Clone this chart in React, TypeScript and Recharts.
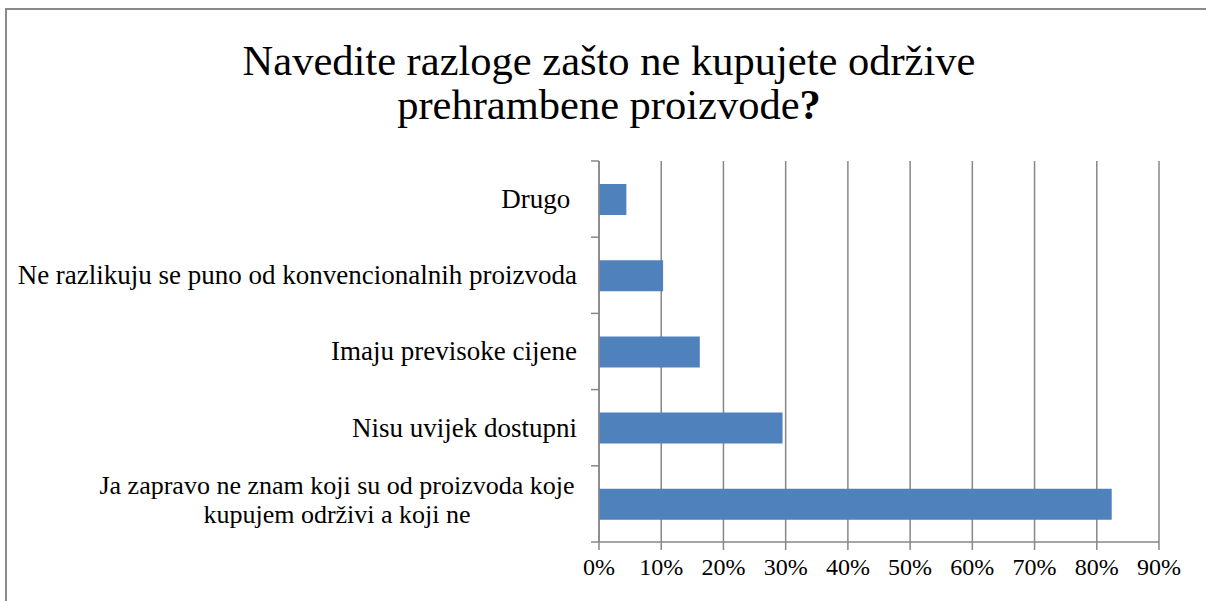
import { BarChart, Bar, XAxis, YAxis, CartesianGrid } from 'recharts'

const categories = [
  'Drugo ',
  'Ne razlikuju se puno od konvencionalnih proizvoda',
  'Imaju previsoke cijene',
  'Nisu uvijek dostupni',
  'Ja zapravo ne znam koji su od proizvoda koje\nkupujem održivi a koji ne',
]
const shares = [0.044, 0.103, 0.162, 0.295, 0.824]
const xTicks = [0, 0.1, 0.2, 0.3, 0.4, 0.5, 0.6, 0.7, 0.8, 0.9]

const data = categories.map((name, i) => ({ name, value: shares[i] }))

const W = 1206
const H = 601
const TOP = 161
const BOTTOM_AXIS = 59
const LEFT_AXIS = 599
const RIGHT = 47
const GRAY = '#878787'
const FONT = '"Liberation Serif", "Times New Roman", serif'
const BAND = (H - TOP - BOTTOM_AXIS) / categories.length
const LABEL_GAP = 22

function CategoryTick(props: any) {
  const { x, y, payload, index } = props
  const axisX = x + LABEL_GAP
  const lines = String(payload.value).split('\n')
  return (
    <g>
      <line x1={axisX - 8} y1={y - BAND / 2} x2={axisX} y2={y - BAND / 2} stroke={GRAY} strokeWidth={1.5} />
      {index === categories.length - 1 && (
        <line x1={axisX - 8} y1={y + BAND / 2} x2={axisX} y2={y + BAND / 2} stroke={GRAY} strokeWidth={1.5} />
      )}
      {lines.length === 1 ? (
        <text x={x} y={y} dy="0.33em" textAnchor="end" fill="#000" style={{ whiteSpace: 'pre', fontFamily: FONT, fontSize: 27 }}>
          {lines[0]}
        </text>
      ) : (
        // two-line label: lines centred on each other, block right-aligned
        <text x={x - 240} y={y - 10} textAnchor="middle" fill="#000" style={{ fontFamily: FONT, fontSize: 26 }}>
          {lines.map((l, i) => (
            <tspan key={i} x={x - 240} dy={i === 0 ? 0 : 29}>
              {l}
            </tspan>
          ))}
        </text>
      )}
    </g>
  )
}

function PercentTick(props: any) {
  const { x, y, payload } = props
  return (
    <text x={x} y={y} dy="0.71em" textAnchor="middle" fill="#000" style={{ fontFamily: FONT, fontSize: 24 }}>
      {`${Math.round(payload.value * 100)}%`}
    </text>
  )
}

export default function App() {
  return (
    <div style={{ position: 'absolute', left: 0, top: 0, width: W, height: H, overflow: 'hidden', background: '#fff', fontFamily: FONT }}>
      <div style={{ position: 'absolute', left: 5, top: 8, width: W + 20, height: H + 20, border: '2px solid #8a8a8a' }} />
      <div
        style={{
          position: 'absolute',
          left: 0,
          top: 39,
          width: 1218,
          textAlign: 'center',
          fontFamily: FONT,
          fontSize: 42.5,
          lineHeight: '44px',
          color: '#000',
        }}
      >
        Navedite razloge zašto ne kupujete održive
        <br />
        prehrambene proizvode<b>?</b>
      </div>
      <div style={{ position: 'absolute', left: 0, top: 0 }}>
        <BarChart
          width={W}
          height={H}
          data={data}
          layout="vertical"
          margin={{ top: TOP, right: RIGHT, bottom: 0, left: 0 }}
          barSize={31}
          style={{ fontFamily: FONT }}
        >
          <CartesianGrid horizontal={false} stroke={GRAY} strokeWidth={1.5} />
          <XAxis
            type="number"
            domain={[0, 0.9]}
            ticks={xTicks}
            height={BOTTOM_AXIS}
            stroke={GRAY}
            strokeWidth={1.5}
            tickSize={8}
            tickMargin={8}
            tick={<PercentTick />}
          />
          <YAxis
            type="category"
            dataKey="name"
            width={LEFT_AXIS}
            tickLine={false}
            tickSize={0}
            tickMargin={LABEL_GAP}
            stroke={GRAY}
            strokeWidth={1.5}
            interval={0}
            tick={<CategoryTick />}
          />
          <Bar dataKey="value" fill="#4F81BD" isAnimationActive={false} />
        </BarChart>
      </div>
    </div>
  )
}
